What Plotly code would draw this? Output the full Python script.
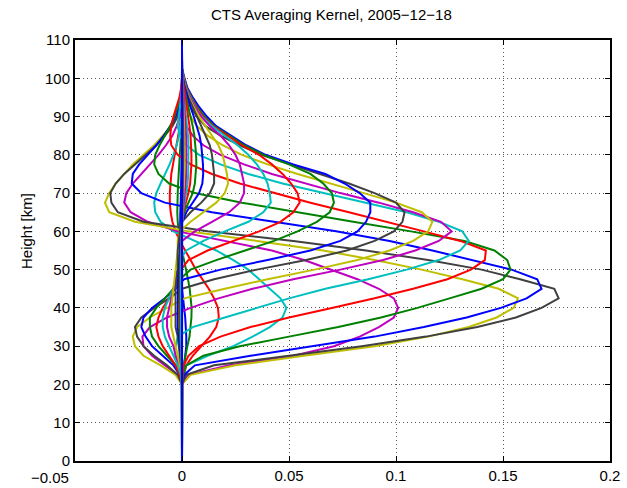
import plotly.graph_objects as go

# Height grid [km]
heights = [0, 2.5, 5, 7.5, 10, 12.5, 15, 17.5, 20, 22.5, 25, 27.5, 30, 32.5, 35, 37.5,
           40, 42.5, 45, 47.5, 50, 52.5, 55, 57.5, 60, 62.5, 65, 67.5, 70, 72.5, 75, 77.5,
           80, 82.5, 85, 87.5, 90, 92.5, 95, 97.5, 100, 102.5, 105, 107.5, 110]

# kernel rows, values at 20, 22.5, ..., 100 km (zero below 20 km and above 100 km)
k01 = [0, 0.0005, 0.001, 0.0015, 0.002, 0.002, 0.0018, 0.0015, 0.001, 0.0005, 0, -0.0005, -0.001, -0.001, -0.001, -0.001, -0.001, -0.001, -0.0008, -0.0006, -0.0005, -0.0003, -0.0002, 0, 0, 0, 0, 0, 0, 0, 0, 0, 0]
k02 = [0, 0.0003, 0.0008, 0.0015, 0.0025, 0.0035, 0.004, 0.0044, 0.0045, 0.0042, 0.0036, 0.0028, 0.0018, 0.0008, 0, -0.0008, -0.0015, -0.002, -0.0022, -0.0022, -0.002, -0.0018, -0.0015, -0.0012, -0.0009, -0.0006, -0.0003, -0.0001, 0, 0, 0, 0, 0]
k03 = [0, 0.0008, 0.002, 0.005, 0.009, 0.013, 0.016, 0.0172, 0.0168, 0.015, 0.0125, 0.0095, 0.0065, 0.004, 0.0015, -0.001, -0.003, -0.0045, -0.0053, -0.0057, -0.0057, -0.0055, -0.005, -0.0042, -0.0034, -0.0025, -0.0017, -0.001, -0.0005, -0.0002, 0, 0, 0]
k04 = [0, 0.0003, 0.002, 0.012, 0.024, 0.033, 0.041, 0.047, 0.0488, 0.046, 0.041, 0.036, 0.031, 0.024, 0.016, 0.006, -0.004, -0.010, -0.0125, -0.013, -0.012, -0.010, -0.0078, -0.0058, -0.0040, -0.0025, -0.0014, -0.0007, -0.0003, 0, 0, 0, 0]
k05 = [0, 0.003, 0.022, 0.052, 0.071, 0.083, 0.092, 0.099, 0.101, 0.099, 0.092, 0.082, 0.069, 0.057, 0.042, 0.02, -0.002, -0.016, -0.024, -0.027, -0.026, -0.023, -0.019, -0.015, -0.011, -0.0075, -0.0045, -0.0025, -0.001, -0.0004, 0, 0, 0]
k06 = [0, 0.004, 0.025, 0.057, 0.09, 0.115, 0.134, 0.147, 0.155, 0.157, 0.148, 0.131, 0.112, 0.09, 0.066, 0.035, 0.003, -0.022, -0.034, -0.036, -0.034, -0.031, -0.027, -0.023, -0.018, -0.013, -0.009, -0.005, -0.0025, -0.001, -0.0003, 0, 0]
k07 = [0, 0.002, 0.015, 0.05, 0.084, 0.114, 0.138, 0.156, 0.168, 0.176, 0.174, 0.158, 0.14, 0.115, 0.086, 0.052, 0.012, -0.018, -0.03, -0.033, -0.0335, -0.031, -0.027, -0.022, -0.017, -0.012, -0.008, -0.0045, -0.002, -0.0008, -0.0002, 0, 0]
k08 = [0, 0.001, 0.006, 0.032, 0.062, 0.09, 0.113, 0.133, 0.149, 0.161, 0.168, 0.166, 0.154, 0.136, 0.117, 0.097, 0.072, 0.043, 0.014, -0.008, -0.019, -0.0235, -0.023, -0.02, -0.016, -0.012, -0.0085, -0.0055, -0.003, -0.0013, -0.0004, 0, 0]
k09 = [0, 0.0005, 0.002, 0.01, 0.027, 0.05, 0.073, 0.093, 0.11, 0.125, 0.14, 0.15, 0.1535, 0.152, 0.146, 0.132, 0.107, 0.08, 0.054, 0.028, 0.006, -0.006, -0.011, -0.013, -0.0125, -0.0105, -0.008, -0.0055, -0.0035, -0.002, -0.0008, -0.0002, 0]
k10 = [0, 0.0002, 0.0008, 0.003, 0.008, 0.018, 0.032, 0.05, 0.07, 0.09, 0.108, 0.124, 0.135, 0.1415, 0.142, 0.13, 0.113, 0.096, 0.078, 0.06, 0.043, 0.027, 0.014, 0.004, -0.002, -0.005, -0.0055, -0.005, -0.004, -0.0025, -0.0012, -0.0004, 0]
k11 = [0, -0.0005, -0.002, -0.003, -0.003, -0.002, 0.005, 0.02, 0.035, 0.05, 0.067, 0.087, 0.105, 0.12, 0.13, 0.134, 0.131, 0.12, 0.105, 0.086, 0.066, 0.047, 0.031, 0.018, 0.008, 0.002, -0.001, -0.002, -0.0015, -0.001, -0.0005, 0, 0]
k12 = [0, -0.002, -0.008, -0.014, -0.018, -0.0185, -0.015, -0.007, 0.004, 0.017, 0.033, 0.052, 0.074, 0.094, 0.109, 0.12, 0.126, 0.121, 0.108, 0.092, 0.074, 0.058, 0.042, 0.029, 0.018, 0.01, 0.005, 0.002, 0.0005, 0, -0.0003, 0, 0]
k13 = [0, -0.003, -0.01, -0.018, -0.022, -0.023, -0.021, -0.015, -0.007, 0.001, 0.02, 0.04, 0.062, 0.082, 0.097, 0.108, 0.115, 0.117, 0.112, 0.1, 0.085, 0.069, 0.054, 0.04, 0.028, 0.019, 0.012, 0.007, 0.004, 0.002, 0.0008, 0.0002, 0]
k14 = [0, -0.002, -0.007, -0.013, -0.018, -0.021, -0.022, -0.019, -0.013, -0.006, 0, 0.015, 0.035, 0.058, 0.077, 0.09, 0.099, 0.103, 0.104, 0.1, 0.09, 0.078, 0.064, 0.05, 0.037, 0.027, 0.018, 0.011, 0.007, 0.004, 0.002, 0.0007, 0.0002]
k15 = [0, -0.001, -0.004, -0.009, -0.014, -0.017, -0.019, -0.018, -0.014, -0.008, -0.003, 0.001, 0.018, 0.04, 0.06, 0.074, 0.082, 0.086, 0.088, 0.088, 0.083, 0.076, 0.067, 0.052, 0.039, 0.03, 0.023, 0.016, 0.0116, 0.008, 0.005, 0.0025, 0.0012]
k16 = [0, -0.001, -0.003, -0.007, -0.011, -0.014, -0.015, -0.015, -0.012, -0.008, -0.004, -0.001, 0.004, 0.016, 0.03, 0.043, 0.054, 0.063, 0.069, 0.071, 0.07, 0.066, 0.06, 0.05, 0.038, 0.029, 0.022, 0.015, 0.0105, 0.007, 0.0045, 0.0022, 0.001]
k17 = [0, -0.001, -0.003, -0.006, -0.009, -0.011, -0.012, -0.011, -0.009, -0.006, -0.004, -0.002, -0.0005, 0.003, 0.012, 0.024, 0.036, 0.046, 0.052, 0.055, 0.054, 0.051, 0.047, 0.042, 0.036, 0.028, 0.021, 0.0145, 0.0098, 0.0066, 0.0042, 0.002, 0.0009]
k18 = [0, -0.0005, -0.002, -0.004, -0.006, -0.008, -0.009, -0.009, -0.008, -0.006, -0.004, -0.003, -0.002, -0.001, 0.002, 0.01, 0.02, 0.031, 0.038, 0.0415, 0.041, 0.04, 0.038, 0.035, 0.031, 0.026, 0.02, 0.014, 0.0093, 0.0062, 0.004, 0.0019, 0.0008]
k19 = [0, 0, -0.001, -0.003, -0.004, -0.006, -0.007, -0.007, -0.006, -0.005, -0.004, -0.003, -0.002, -0.0015, -0.001, 0, 0.006, 0.014, 0.022, 0.027, 0.029, 0.029, 0.028, 0.027, 0.025, 0.022, 0.018, 0.013, 0.009, 0.006, 0.0037, 0.0018, 0.0007]
k20 = [0, 0, -0.001, -0.002, -0.003, -0.004, -0.005, -0.005, -0.005, -0.0045, -0.004, -0.0035, -0.003, -0.0025, -0.002, -0.002, -0.001, 0.004, 0.01, 0.016, 0.02, 0.0215, 0.021, 0.02, 0.019, 0.017, 0.014, 0.011, 0.008, 0.0055, 0.0033, 0.0016, 0.0006]
k21 = [0, 0, -0.0005, -0.001, -0.0015, -0.002, -0.003, -0.003, -0.003, -0.003, -0.003, -0.0025, -0.002, -0.002, -0.002, -0.0015, -0.001, 0, 0.004, 0.009, 0.013, 0.015, 0.015, 0.0145, 0.014, 0.013, 0.011, 0.009, 0.007, 0.005, 0.003, 0.0015, 0.0005]
k22 = [0, 0, 0, -0.0005, -0.001, -0.0015, -0.002, -0.002, -0.002, -0.002, -0.002, -0.0018, -0.0015, -0.0012, -0.001, -0.0008, -0.0005, 0, 0.002, 0.005, 0.008, 0.0095, 0.0099, 0.0098, 0.0095, 0.009, 0.0082, 0.007, 0.0055, 0.004, 0.0025, 0.0012, 0.0004]
k23 = [0, 0, 0, -0.0003, -0.0006, -0.001, -0.0012, -0.0013, -0.0013, -0.0013, -0.0012, -0.0011, -0.001, -0.0008, -0.0006, -0.0005, -0.0003, 0, 0.001, 0.003, 0.005, 0.006, 0.0065, 0.0067, 0.0066, 0.0063, 0.0058, 0.005, 0.004, 0.003, 0.0019, 0.0009, 0.0003]
k24 = [0, 0, 0, -0.0002, -0.0004, -0.0006, -0.0008, -0.0008, -0.0008, -0.0008, -0.0008, -0.0007, -0.0006, -0.0005, -0.0004, -0.0003, -0.0002, 0, 0.0006, 0.0018, 0.003, 0.0038, 0.0042, 0.0044, 0.0044, 0.0043, 0.004, 0.0035, 0.0028, 0.0021, 0.0013, 0.0006, 0.0002]
k25 = [0, 0, 0, -0.0001, -0.0003, -0.0004, -0.0005, -0.0005, -0.0005, -0.0005, -0.0005, -0.0005, -0.0004, -0.0003, -0.0003, -0.0002, -0.0001, 0, 0.0004, 0.0012, 0.002, 0.0026, 0.0029, 0.003, 0.003, 0.003, 0.0028, 0.0024, 0.0019, 0.0014, 0.0009, 0.0004, 0.0001]
k26 = [0, 0, 0, 0, -0.0002, -0.0003, -0.0003, -0.0003, -0.0003, -0.0003, -0.0003, -0.0003, -0.0003, -0.0002, -0.0002, -0.0001, -0.0001, 0, 0.0003, 0.0008, 0.0013, 0.0017, 0.0019, 0.002, 0.002, 0.002, 0.0019, 0.0016, 0.0013, 0.0009, 0.0006, 0.0003, 0.0001]
k27 = [0, 0, 0, 0, -0.0001, -0.0002, -0.0002, -0.0002, -0.0002, -0.0002, -0.0002, -0.0002, -0.0002, -0.0001, -0.0001, -0.0001, 0, 0, 0.0002, 0.0005, 0.0008, 0.001, 0.0011, 0.0012, 0.0012, 0.0012, 0.0011, 0.001, 0.0008, 0.0006, 0.0004, 0.0002, 0.0001]
k28 = [0, 0, 0, 0, 0, -0.0001, -0.0001, -0.0001, -0.0001, -0.0001, -0.0001, -0.0001, -0.0001, -0.0001, 0, 0, 0, 0, 0.0001, 0.0003, 0.0004, 0.0005, 0.0006, 0.0006, 0.0006, 0.0006, 0.0006, 0.0005, 0.0004, 0.0003, 0.0002, 0.0001, 0]
k29 = [0] * 33

rows = [k01, k02, k03, k04, k05, k06, k07, k08, k09, k10, k11, k12, k13, k14, k15,
        k16, k17, k18, k19, k20, k21, k22, k23, k24, k25, k26, k27, k28, k29]

colors = ["#0000FF", "#008000", "#FF0000", "#00BFBF", "#BF00BF", "#BFBF00", "#404040"]

title_text = "CTS Averaging Kernel, 2005\u221212\u221218"
y_label = "Height [km]"
x_ticks = [-0.05, 0, 0.05, 0.1, 0.15, 0.2]
x_labels = ["\u22120.05", "0", "0.05", "0.1", "0.15", "0.2"]
y_ticks = list(range(0, 111, 10))

fig = go.Figure()
for i, r in enumerate(rows):
    vals = [0] * 8 + r + [0] * 4
    fig.add_trace(go.Scatter(x=vals, y=heights, mode="lines",
                             line=dict(color=colors[i % 7], width=2),
                             showlegend=False, hoverinfo="skip"))

L, R, T, B = 75, 610, 40, 461
W, H = 627, 488
PW, PH = R - L, B - T
font = dict(family="Liberation Sans, Arial, sans-serif", size=15, color="black")
fig.update_layout(
    width=W, height=H,
    margin=dict(l=L, r=W - R, t=T, b=H - B, autoexpand=False),
    paper_bgcolor="white", plot_bgcolor="white",
    font=font,
)
axis_common = dict(showline=True, linecolor="black", linewidth=2, mirror="ticks",
                   ticks="inside", ticklen=5, tickcolor="black", tickwidth=1,
                   showgrid=True, gridcolor="#555555", gridwidth=1, griddash="1px,3px",
                   zeroline=False, automargin=False, tickfont=dict(size=15))
# first x tick label is placed as an annotation (it sits left of its tick in the reference)
fig.update_xaxes(range=[-0.05, 0.2], tickvals=x_ticks, ticktext=[""] + x_labels[1:], **axis_common)
fig.update_yaxes(range=[0, 110], tickvals=y_ticks, **axis_common)

# title, y label and the first x tick label as text annotations
fig.add_annotation(text=title_text, xref="paper", yref="paper",
                   x=(331 - L) / PW, y=(B - 14) / PH, xanchor="center", yanchor="middle",
                   showarrow=False, font=dict(size=15))
fig.add_annotation(text=y_label, xref="paper", yref="paper", textangle=-90,
                   x=(27 - L) / PW, y=(B - 231) / PH, xanchor="center", yanchor="middle",
                   showarrow=False, font=dict(size=15))
fig.add_annotation(text=x_labels[0], xref="paper", yref="paper",
                   x=(50 - L) / PW, y=(B - 478) / PH, xanchor="center", yanchor="middle",
                   showarrow=False, font=dict(size=15))

fig.write_html("out.html")
